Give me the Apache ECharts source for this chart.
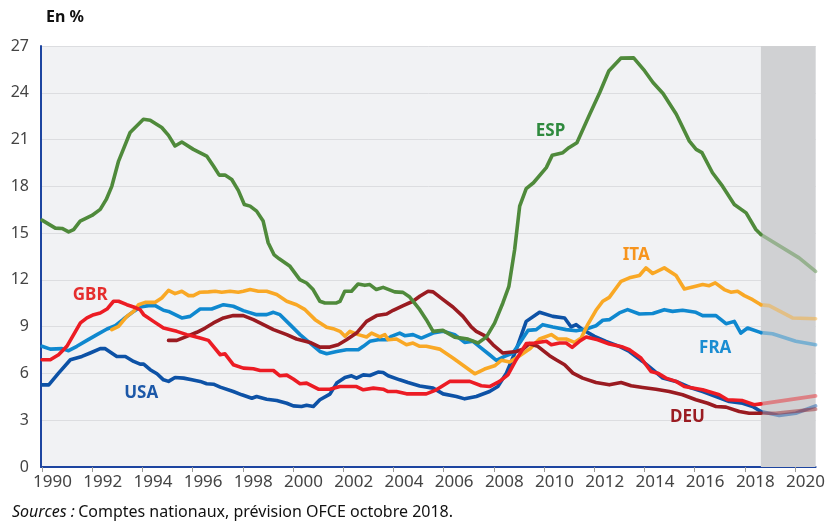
<!DOCTYPE html>
<html><head><meta charset="utf-8">
<script src="https://cdn.jsdelivr.net/npm/echarts@6/dist/echarts.min.js"></script>
<style>html,body{margin:0;padding:0;background:#fff}#c{width:828px;height:522px}</style>
</head><body><div id="c"></div>
<script>
const tickYears = [1990,1992,1994,1996,1998,2000,2002,2004,2006,2008,2010,2012,2014,2016,2018,2020];
const forecastStart = 2018.64;
const xEnd = 2020.82;

const ESP = [[1990.0,15.83],[1990.53,15.32],[1990.8,15.3],[1991.06,15.08],[1991.26,15.23],[1991.52,15.77],[1991.99,16.13],[1992.32,16.52],[1992.56,17.16],[1992.78,18.0],[1993.05,19.62],[1993.51,21.45],[1994.04,22.3],[1994.31,22.24],[1994.77,21.77],[1995.04,21.27],[1995.30,20.59],[1995.57,20.84],[1996.03,20.37],[1996.56,19.94],[1996.83,19.3],[1997.06,18.72],[1997.29,18.72],[1997.56,18.44],[1997.82,17.74],[1998.06,16.84],[1998.29,16.73],[1998.55,16.41],[1998.81,15.77],[1999.01,14.38],[1999.25,13.6],[1999.45,13.35],[1999.88,12.87],[2000.27,12.02],[2000.54,11.8],[2000.8,11.38],[2001.07,10.63],[2001.27,10.52],[2001.73,10.52],[2001.87,10.62],[2002.06,11.27],[2002.33,11.27],[2002.59,11.74],[2002.86,11.65],[2003.06,11.7],[2003.32,11.38],[2003.59,11.52],[2004.05,11.23],[2004.38,11.2],[2004.65,10.9],[2005.05,10.09],[2005.31,9.45],[2005.58,8.7],[2005.97,8.76],[2006.44,8.33],[2006.97,8.2],[2007.37,7.95],[2007.7,8.33],[2008.03,9.23],[2008.36,10.52],[2008.6,11.59],[2008.83,13.95],[2009.03,16.73],[2009.29,17.85],[2009.58,18.23],[2010.09,19.2],[2010.33,20.0],[2010.75,20.16],[2010.99,20.48],[2011.31,20.8],[2011.82,22.62],[2012.22,24.02],[2012.58,25.4],[2013.06,26.22],[2013.57,26.24],[2014.01,25.4],[2014.34,24.66],[2014.74,23.95],[2015.27,22.62],[2015.79,20.9],[2016.06,20.37],[2016.29,20.16],[2016.71,18.87],[2017.11,18.01],[2017.58,16.84],[2018.05,16.3],[2018.44,15.23],[2018.64,14.91]];
const ESP_prev = [[2018.64,14.91],[2020.16,13.41],[2020.82,12.55]];

const USA = [[1990.0,5.27],[1990.27,5.27],[1990.66,6.02],[1991.13,6.88],[1991.59,7.09],[1991.92,7.31],[1992.32,7.59],[1992.52,7.59],[1992.98,7.09],[1993.32,7.09],[1993.65,6.77],[1993.91,6.6],[1994.05,6.6],[1994.31,6.24],[1994.58,5.98],[1994.84,5.59],[1995.04,5.49],[1995.30,5.74],[1995.64,5.7],[1995.97,5.59],[1996.30,5.49],[1996.56,5.34],[1996.83,5.31],[1997.10,5.12],[1997.62,4.84],[1997.96,4.63],[1998.36,4.41],[1998.55,4.52],[1998.95,4.35],[1999.35,4.26],[1999.75,4.09],[2000.01,3.92],[2000.34,3.88],[2000.54,3.96],[2000.81,3.88],[2001.07,4.31],[2001.47,4.67],[2001.74,5.38],[2002.07,5.74],[2002.33,5.85],[2002.53,5.7],[2002.8,5.91],[2003.06,5.87],[2003.39,6.09],[2003.59,6.06],[2003.79,5.85],[2004.25,5.59],[2004.58,5.42],[2005.05,5.2],[2005.58,5.06],[2005.98,4.69],[2006.51,4.52],[2006.84,4.37],[2007.3,4.52],[2007.83,4.84],[2008.16,5.16],[2008.5,6.02],[2008.89,7.52],[2009.29,9.34],[2009.82,9.92],[2010.35,9.66],[2010.82,9.56],[2011.08,8.98],[2011.28,9.13],[2011.54,8.81],[2012.01,8.38],[2012.47,8.06],[2013.0,7.74],[2013.4,7.41],[2013.93,6.77],[2014.33,6.24],[2014.73,5.7],[2015.26,5.49],[2015.79,5.12],[2016.32,4.84],[2016.85,4.52],[2017.38,4.2],[2017.91,4.09],[2018.31,3.88],[2018.64,3.56]];
const USA_prev = [[2018.64,3.56],[2019.37,3.3],[2020.03,3.45],[2020.82,3.92]];

const GBR = [[1990,6.88],[1990.33,6.88],[1990.66,7.2],[1990.99,7.74],[1991.26,8.49],[1991.53,9.24],[1991.79,9.56],[1992.06,9.77],[1992.32,9.88],[1992.59,10.13],[1992.85,10.63],[1993.05,10.63],[1993.38,10.41],[1993.65,10.26],[1993.91,10.09],[1994.05,9.77],[1994.44,9.34],[1994.84,8.91],[1995.37,8.7],[1995.77,8.49],[1996.30,8.27],[1996.63,8.12],[1997.10,7.2],[1997.29,7.26],[1997.62,6.56],[1998.02,6.34],[1998.42,6.3],[1998.69,6.19],[1999.22,6.19],[1999.48,5.85],[1999.75,5.89],[2000.01,5.64],[2000.28,5.34],[2000.54,5.38],[2001.01,4.99],[2001.47,4.99],[2001.87,5.16],[2002.53,5.16],[2002.8,4.95],[2003.2,5.06],[2003.59,4.99],[2003.79,4.84],[2004.12,4.84],[2004.52,4.69],[2005.31,4.69],[2005.71,4.95],[2006.24,5.49],[2007.04,5.49],[2007.5,5.21],[2007.83,5.16],[2008.23,5.49],[2008.56,5.91],[2008.89,6.88],[2009.29,7.91],[2009.62,7.95],[2010.09,8.06],[2010.29,7.84],[2010.62,7.95],[2010.88,7.95],[2011.12,7.67],[2011.41,8.06],[2011.68,8.34],[2012.14,8.16],[2012.6,7.89],[2013.14,7.69],[2013.4,7.52],[2013.86,6.99],[2014.26,6.13],[2014.53,6.02],[2014.86,5.7],[2015.26,5.49],[2015.59,5.16],[2015.92,5.06],[2016.32,4.95],[2016.98,4.63],[2017.31,4.31],[2017.91,4.26],[2018.37,3.99],[2018.64,4.05]];
const GBR_prev = [[2018.64,4.05],[2020.82,4.56]];

const FRA = [[1990,7.74],[1990.33,7.56],[1990.8,7.59],[1991.06,7.46],[1991.39,7.74],[1991.79,8.12],[1992.19,8.49],[1992.59,8.85],[1992.92,9.06],[1993.25,9.49],[1993.65,9.98],[1993.91,10.26],[1994.24,10.35],[1994.51,10.35],[1994.84,10.05],[1995.04,9.98],[1995.57,9.56],[1995.9,9.66],[1996.3,10.13],[1996.76,10.13],[1997.23,10.41],[1997.62,10.31],[1998.02,10.03],[1998.55,9.77],[1998.95,9.77],[1999.22,9.92],[1999.48,9.77],[1999.88,9.13],[2000.28,8.49],[2000.68,7.95],[2001.07,7.41],[2001.34,7.26],[2001.74,7.41],[2002.13,7.52],[2002.6,7.52],[2002.8,7.74],[2003.06,8.06],[2003.39,8.16],[2003.73,8.16],[2003.92,8.38],[2004.25,8.59],[2004.45,8.42],[2004.78,8.49],[2005.11,8.27],[2005.58,8.59],[2005.98,8.7],[2006.44,8.49],[2006.84,7.99],[2007.17,8.06],[2007.5,7.63],[2007.83,7.2],[2008.1,6.84],[2008.43,7.09],[2008.76,7.31],[2009.03,7.95],[2009.36,8.76],[2009.69,8.81],[2009.95,9.13],[2010.35,8.98],[2010.88,8.81],[2011.28,8.74],[2011.68,8.85],[2012.07,9.06],[2012.34,9.41],[2012.6,9.45],[2013.0,9.88],[2013.33,10.09],[2013.8,9.81],[2014.33,9.84],[2014.79,10.09],[2015.12,9.98],[2015.52,10.05],[2016.05,9.92],[2016.32,9.71],[2016.85,9.71],[2017.25,9.19],[2017.58,9.34],[2017.84,8.59],[2018.11,8.91],[2018.64,8.62]];
const FRA_prev = [[2018.64,8.62],[2019.1,8.55],[2020.03,8.06],[2020.82,7.84]];

const ITA = [[1992.78,8.81],[1993.05,9.02],[1993.38,9.66],[1993.65,9.98],[1993.85,10.41],[1994.11,10.56],[1994.51,10.56],[1994.77,10.84],[1995.04,11.33],[1995.3,11.12],[1995.57,11.27],[1995.84,10.99],[1996.03,10.99],[1996.3,11.21],[1996.63,11.23],[1996.9,11.27],[1997.16,11.21],[1997.49,11.27],[1997.82,11.21],[1998.02,11.27],[1998.29,11.38],[1998.62,11.27],[1998.95,11.27],[1999.35,11.06],[1999.75,10.63],[2000.14,10.41],[2000.48,10.09],[2000.88,9.45],[2001.34,8.96],[2001.6,8.87],[2001.87,8.7],[2002.07,8.38],[2002.27,8.7],[2002.6,8.49],[2002.93,8.34],[2003.13,8.59],[2003.46,8.34],[2003.66,8.49],[2003.79,8.16],[2004.12,8.21],[2004.52,7.84],[2004.78,7.95],[2005.05,7.74],[2005.31,7.74],[2005.84,7.56],[2006.37,6.99],[2006.84,6.45],[2007.24,5.98],[2007.63,6.28],[2008.03,6.49],[2008.3,6.84],[2008.63,6.73],[2009.03,7.14],[2009.42,7.56],[2009.82,8.21],[2010.29,8.49],[2010.55,8.21],[2010.88,8.21],[2011.21,7.99],[2011.48,8.27],[2011.74,9.13],[2012.07,10.05],[2012.34,10.63],[2012.6,10.88],[2013.07,11.91],[2013.4,12.13],[2013.8,12.28],[2014.06,12.77],[2014.33,12.41],[2014.79,12.77],[2015.26,12.28],[2015.59,11.42],[2015.92,11.55],[2016.32,11.7],[2016.58,11.63],[2016.82,11.81],[2017.18,11.38],[2017.44,11.21],[2017.71,11.27],[2017.98,10.99],[2018.31,10.73],[2018.64,10.4]];
const ITA_prev = [[2018.64,10.4],[2018.97,10.35],[2019.9,9.56],[2020.82,9.51]];

const DEU = [[1995.04,8.12],[1995.37,8.12],[1995.77,8.38],[1996.17,8.64],[1996.5,8.91],[1996.83,9.24],[1997.23,9.56],[1997.62,9.71],[1998.02,9.71],[1998.42,9.45],[1998.82,9.13],[1999.22,8.81],[1999.75,8.49],[2000.14,8.21],[2000.68,7.99],[2001.07,7.69],[2001.47,7.69],[2001.8,7.84],[2002.13,8.16],[2002.53,8.59],[2002.93,9.34],[2003.33,9.71],[2003.73,9.81],[2003.99,10.05],[2004.39,10.35],[2004.78,10.63],[2005.05,10.95],[2005.38,11.27],[2005.58,11.23],[2005.98,10.73],[2006.37,10.26],[2006.77,9.66],[2007.1,8.98],[2007.3,8.7],[2007.63,8.42],[2007.97,7.84],[2008.36,7.31],[2008.9,7.41],[2009.16,7.56],[2009.42,7.91],[2009.75,7.74],[2010.22,7.14],[2010.48,6.88],[2010.82,6.56],[2011.15,6.02],[2011.54,5.7],[2012.07,5.42],[2012.6,5.27],[2013.07,5.42],[2013.47,5.21],[2013.93,5.1],[2014.46,4.99],[2014.99,4.84],[2015.52,4.63],[2016.05,4.31],[2016.52,4.09],[2016.85,3.88],[2017.25,3.84],[2017.78,3.56],[2018.17,3.45],[2018.64,3.45]];
const DEU_prev = [[2018.64,3.45],[2019.23,3.45],[2020.82,3.71]];

const countryLabels = [
  {name:'ESP', at:[2010.26,21.53], color:'#2f8a3e'},
  {name:'ITA', at:[2013.67,13.56], color:'#f7941d'},
  {name:'FRA', at:[2016.82,7.65], color:'#1a8dd2'},
  {name:'DEU', at:[2015.71,3.21], color:'#9b1c22'},
  {name:'GBR', at:[1991.92,10.99], color:'#e52d2d'},
  {name:'USA', at:[1993.95,4.76], color:'#1c58a8'}
];

const FONT = "'Noto Sans', 'Open Sans', sans-serif";
const colors = {ESP:'#4f8a3b', ITA:'#f9a825', FRA:'#0f88cf', USA:'#0d52a6', GBR:'#ec1c24', DEU:'#9a1b21'};

function hist(name, data, z){
  return {type:'line', name, data, showSymbol:false, symbol:'none', z,
    lineStyle:{color:colors[name], width:3.6, cap:'round', join:'round'}, silent:true, animation:false};
}
function prev(name, data, z){
  return {type:'line', name:name+'p', data, showSymbol:false, symbol:'none', z,
    lineStyle:{color:colors[name], width:3.6, opacity:0.45, cap:'round', join:'round'}, silent:true, animation:false};
}

const series = [
  {type:'line', data:[], z:1, silent:true, animation:false,
   markArea:{silent:true, itemStyle:{color:'#d0d1d3'}, data:[[{xAxis:forecastStart},{xAxis:xEnd}]]}},
  hist('USA', USA, 3), prev('USA', USA_prev, 3),
  hist('FRA', FRA, 4), prev('FRA', FRA_prev, 4),
  hist('ITA', ITA, 5), prev('ITA', ITA_prev, 5),
  hist('DEU', DEU, 6), prev('DEU', DEU_prev, 6),
  hist('ESP', ESP, 7), prev('ESP', ESP_prev, 7),
  hist('GBR', GBR, 8), prev('GBR', GBR_prev, 8),
  {type:'line', data:[], z:10, silent:true, animation:false,
   markPoint:{silent:true, symbol:'circle', symbolSize:0, animation:false,
     data: countryLabels.map(l=>({coord:l.at, label:{show:true, position:'inside', formatter:l.name,
        color:l.color, fontFamily:FONT, fontWeight:'bold', fontSize:17}}))}}
];

const chart = echarts.init(document.getElementById('c'), null, {renderer:'canvas'});
chart.setOption({
  animation:false,
  backgroundColor:'#ffffff',
  grid:{left:41, right:11, top:46, bottom:55, show:true, backgroundColor:'#f1f2f4', borderWidth:0},
  xAxis:{type:'value', min:1989.96, max:xEnd,
    axisLine:{show:true, onZero:false, lineStyle:{color:'#1d45a0', width:2}},
    axisTick:{show:true, customValues:tickYears, length:5, lineStyle:{color:'#9a9a9a', width:1}},
    axisLabel:{customValues:tickYears, formatter:v=>String(Math.round(v)), padding:[0,0,0,21],
      color:'#444', fontSize:17, fontFamily:FONT, margin:7},
    splitLine:{show:false}},
  yAxis:{type:'value', min:0, max:27, interval:3,
    axisLine:{show:true, lineStyle:{color:'#1d45a0', width:2}},
    axisTick:{show:false},
    axisLabel:{color:'#444', fontSize:16, fontFamily:FONT, margin:12},
    splitLine:{show:true, lineStyle:{color:'#dcdde0', width:1}}},
  graphic:[
    {type:'text', left:46, top:9, style:{text:'En %', fill:'#111', font:"bold 16px 'Noto Sans', sans-serif"}},
    {type:'text', left:12, top:504, style:{rich:{i:{fontStyle:'italic', fontSize:16, fontFamily:FONT, fill:'#111'}, n:{fontSize:16, fontFamily:FONT, fill:'#111'}},
      text:'{i|Sources :} {n|Comptes nationaux, prévision OFCE octobre 2018.}', fill:'#111'}}
  ],
  series
});
</script></body></html>
